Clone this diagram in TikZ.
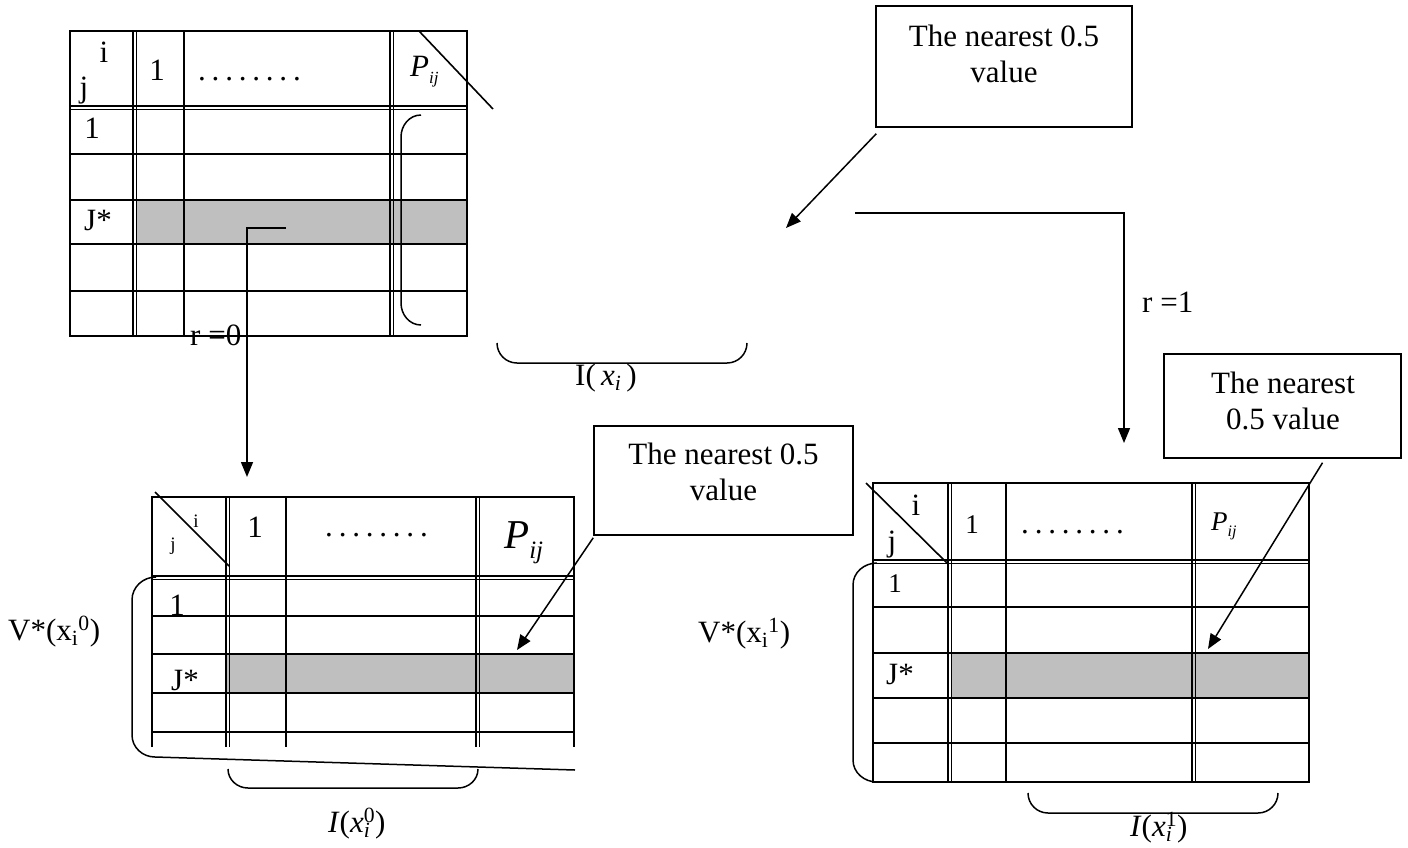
\documentclass[tikz,border=0pt]{standalone}
\usepackage{fontspec}
\setmainfont{Liberation Serif}
\usetikzlibrary{arrows.meta,calc}
% a row of eight spaced dots for the column headers
\newcommand{\dotrun}{.\hspace{5.8pt}.\hspace{5.8pt}.\hspace{5.8pt}.\hspace{5.8pt}.\hspace{5.8pt}.\hspace{5.8pt}.\hspace{5.8pt}.}
% P with a lowered italic ij
\newcommand{\Pij}[1]{\textit{P}\raisebox{-.25em}{\fontsize{#1}{#1}\selectfont\textit{ij}}}
\begin{document}
\begin{tikzpicture}[x=1pt,y=-1pt,
  grid/.style={line width=1.6pt},
  link/.style={line width=1.5pt,-{Triangle[length=15pt,width=12pt]}},
  curl/.style={line width=1.5pt},
  shade/.style={fill=black!25},
  lbl/.style={inner sep=0pt,font=\fontsize{31}{36}\selectfont},
  mid/.style={inner sep=0pt,font=\fontsize{27}{32}\selectfont},
  tiny/.style={inner sep=0pt,font=\fontsize{19}{22}\selectfont},
  big/.style={inner sep=0pt,font=\fontsize{41}{46}\selectfont},
  nbox/.style={draw,line width=1.5pt,inner sep=0pt},
  boxtext/.style={inner sep=0pt,align=center,font=\fontsize{31}{36}\selectfont}]
\useasboundingbox (0,0) rectangle (1408,847);

% ---------- upper table ----------
\fill[shade] (136,200) rectangle (467,244);
\draw[grid] (70,31) rectangle (467,336);
\foreach \y in {106,109.5,154,200,244,291} \draw[grid] (70,\y) -- (467,\y);
\foreach \x in {133,136.5,184,390,393.5} \draw[grid] (\x,31) -- (\x,336);
\draw[grid] (419,31) -- (493,109);
\draw[curl] (421,115) to[out=180,in=90] (401,137) -- (401,303) to[out=-90,in=180] (421,325);
\node[lbl,anchor=base] (t1i) at (104,62) {i};
\node[lbl,anchor=base] (t1j) at (84,97) {j};
\node[lbl,anchor=base] (t1one) at (157,80) {1};
\node[lbl,anchor=base west] (t1dots) at (198,80) {\dotrun};
\node[lbl,anchor=base west] (t1p) at (410,76) {\Pij{17}};
\node[lbl,anchor=base] (t1row) at (92,138) {1};
\node[lbl,anchor=base west] (t1js) at (84,230) {J*};

% interval brace under the upper table
\draw[curl] (497,343) to[out=-90,in=180] (517,363) -- (727,363) to[out=0,in=-90] (747,343);
\node[lbl,anchor=base west] (ixi) at (575,385) {I(\,\textit{x}\textsubscript{\textit{i}}\,)};

% ---------- lower left table ----------
\fill[shade] (226,654) rectangle (574,693);
\draw[grid] (152,747) -- (152,497) -- (574,497) -- (574,747);
\foreach \y in {576,579.5,616,654,693,732} \draw[grid] (152,\y) -- (574,\y);
\foreach \x in {226,229.5,286,476,479.5} \draw[grid] (\x,497) -- (\x,747);
\draw[grid] (155,492) -- (229,566);
\draw[curl] (156,577) to[out=180,in=90] (132,600) -- (132,735) to[out=-90,in=180] (155,757) -- (575,770);
\draw[curl] (228,769) to[out=-90,in=180] (248,788) -- (458,788) to[out=0,in=-90] (478,769);
\node[tiny,anchor=base] (t2i) at (196,527) {i};
\node[tiny,anchor=base] (t2j) at (173,550) {j};
\node[lbl,anchor=base] (t2one) at (255,537) {1};
\node[lbl,anchor=base west] (t2dots) at (325,536) {\dotrun};
\node[big,anchor=base west] (t2p) at (504,548) {\Pij{25}};
\node[lbl,anchor=base] (t2row) at (177,615) {1};
\node[lbl,anchor=base west] (t2js) at (171,690) {J*};
\node[lbl,anchor=base west] (v0) at (8,640) {V*(x\textsubscript{i}\textsuperscript{0})};
\node[lbl,anchor=base west] (ix0) at (328,832) {\textit{I}(\textit{x}\rlap{\textsubscript{\textit{i}}}\textsuperscript{0})};

% ---------- lower right table ----------
\fill[shade] (951,653) rectangle (1309,698);
\draw[grid] (873,483) rectangle (1309,782);
\foreach \y in {560,563.5,607,653,698,743} \draw[grid] (873,\y) -- (1309,\y);
\foreach \x in {948,951.5,1006,1192,1195.5} \draw[grid] (\x,483) -- (\x,782);
\draw[grid] (866,483) -- (948,564);
\draw[curl] (877,563) to[out=180,in=90] (853,585) -- (853,760) to[out=-90,in=180] (877,782);
\draw[curl] (1028,793) to[out=-90,in=180] (1048,813) -- (1258,813) to[out=0,in=-90] (1278,793);
\node[lbl,anchor=base] (t3i) at (916,515) {i};
\node[lbl,anchor=base] (t3j) at (892,551) {j};
\node[mid,anchor=base] (t3one) at (972,533) {1};
\node[lbl,anchor=base west] (t3dots) at (1021,533) {\dotrun};
\node[mid,anchor=base west] (t3p) at (1211,530) {\Pij{16}};
\node[mid,anchor=base] (t3row) at (895,592) {1};
\node[lbl,anchor=base west] (t3js) at (886,684) {J*};
\node[lbl,anchor=base west] (v1) at (698,642) {V*(x\textsubscript{i}\textsuperscript{1})};
\node[lbl,anchor=base west] (ix1) at (1130,836) {\textit{I}(\textit{x}\rlap{\textsubscript{\textit{i}}}\textsuperscript{1})};

% ---------- call-out boxes ----------
\node[nbox,minimum width=256pt,minimum height=121pt] (b1) at (1004,66.5) {};
\node[boxtext,anchor=north] (b1t) at (1004,25) {The nearest 0.5\\value};
\node[nbox,minimum width=259pt,minimum height=109pt] (b2) at (723.5,480.5) {};
\node[boxtext,anchor=north] (b2t) at (723.5,443) {The nearest 0.5\\value};
\node[nbox,minimum width=237pt,minimum height=104pt] (b3) at (1282.5,406) {};
\node[boxtext,anchor=north] (b3t) at (1283,372) {The nearest\\0.5 value};

\coordinate (a1) at (786,228);
\coordinate (a2) at (517,650);
\coordinate (a3) at (1208,649);
\draw[link] ($(b1.south west)+(1,6)$) -- (a1);
\draw[link] ($(b2.south west)+(0,2)$) -- (a2);
\draw[link] ($(b3.south)+(40,4)$) -- (a3);

% ---------- transitions ----------
\coordinate (r0s) at (286,228);
\coordinate (r0e) at (247,477);
\draw[link] (r0s) -| (r0e);
\node[lbl,anchor=base west] (r0) at (190,345) {r =0};
\coordinate (r1s) at (855,213);
\coordinate (r1e) at (1124,443);
\draw[link] (r1s) -| (r1e);
\node[lbl,anchor=base west] (r1) at (1142,312) {r =1};
\end{tikzpicture}
\end{document}
